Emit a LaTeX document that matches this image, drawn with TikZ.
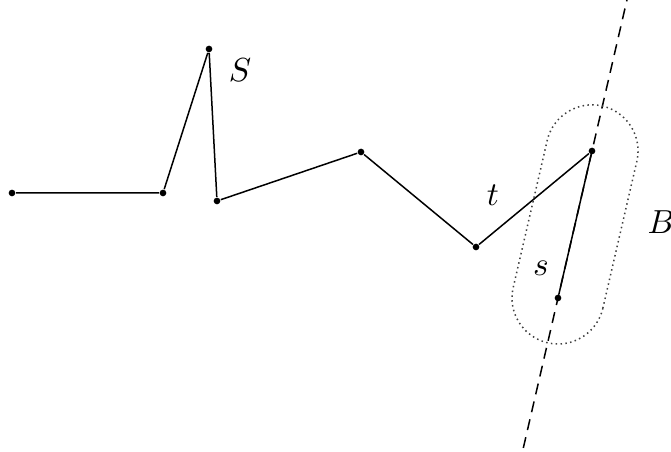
\documentclass[tikz,border=0pt]{standalone}
\usetikzlibrary{calc}
\begin{document}
\begin{tikzpicture}[
  x=0.3pt, y=0.3pt,
  vertex/.style={circle, fill=black, inner sep=0pt, minimum size=2pt},
  chain/.style={line width=0.45pt, line join=round},
  axis/.style={line width=0.45pt, dash pattern=on 3.3pt off 2.2pt},
  region/.style={black!75, line width=0.45pt, densely dotted}
]
\useasboundingbox (0,0) rectangle (671,452);
% vertices of the chain
\node[vertex] (p1) at (12,259) {};
\node[vertex] (p2) at (163,259) {};
\node[vertex] (p3) at (209,403) {};
\node[vertex] (p4) at (217,251) {};
\node[vertex] (p5) at (361,300) {};
\node[vertex] (p6) at (476,205) {};
\node[vertex] (p7) at (592,301) {};
\node[vertex] (p8) at (558,154) {};
\coordinate (lo) at ($(p8)!-1.02!(p7)$);
\coordinate (hi) at ($(p7)!-1.03!(p8)$);

\draw[axis] (lo) -- (hi);
\draw[chain] (p1) -- (p2) -- (p3) -- (p4) -- (p5) -- (p6) -- (p7) -- (p8);

% neighbourhood of the last segment
\begin{scope}[shift={(p8)}, rotate=76.98]
  \draw[region] (0,-46) -- (151,-46) arc[start angle=-90, end angle=90, radius=46]
    -- (0,46) arc[start angle=90, end angle=270, radius=46] -- cycle;
\end{scope}

\node (labS) at (240,382) {$S$};
\node (labt) at (493,257) {$t$};
\node (labB) at (661,230) {$B$};
\node (labs) at (541,184) {$s$};
\end{tikzpicture}
\end{document}
